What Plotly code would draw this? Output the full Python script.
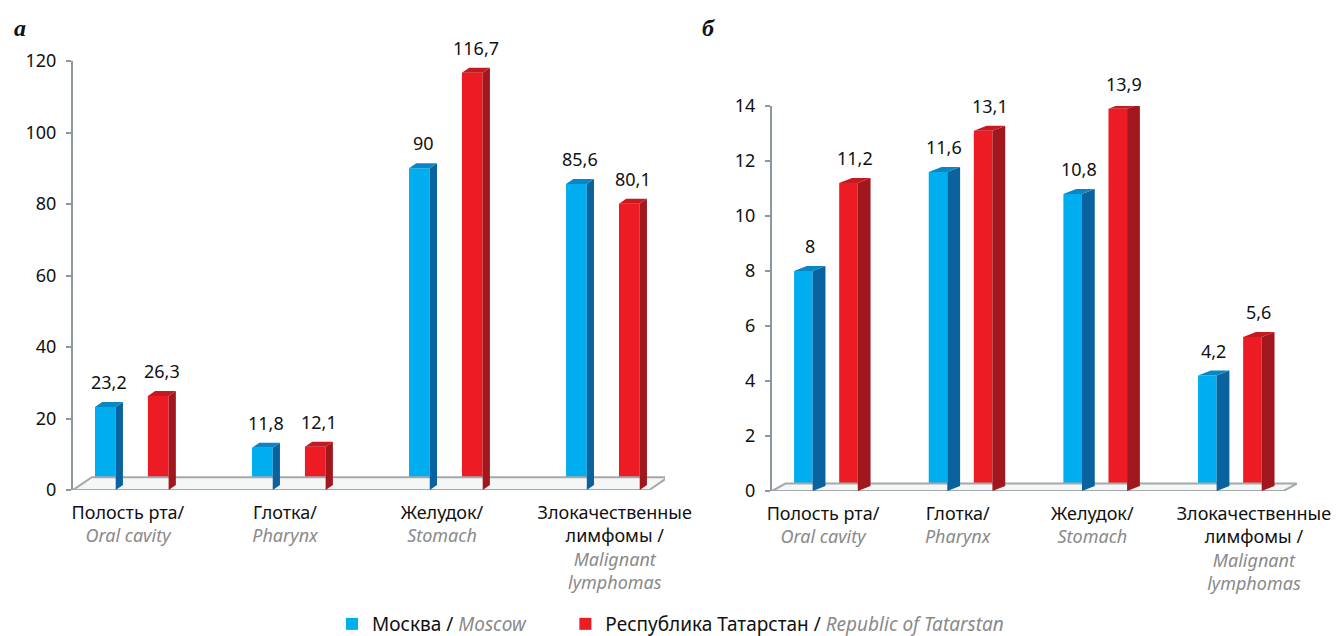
import plotly.graph_objects as go

# ---------------- data ----------------
categories_ru = ["Полость рта/", "Глотка/", "Желудок/", "Злокачественные<br>лимфомы /"]
categories_en = ["Oral cavity", "Pharynx", "Stomach", "Malignant<br>lymphomas"]
series_names_ru = ["Москва", "Республика Татарстан"]
series_names_en = ["Moscow", "Republic of Tatarstan"]
moscow_a = [23.2, 11.8, 90, 85.6]
tatarstan_a = [26.3, 12.1, 116.7, 80.1]
moscow_b = [8, 11.6, 10.8, 4.2]
tatarstan_b = [11.2, 13.1, 13.9, 5.6]
yticks_a = [0, 20, 40, 60, 80, 100, 120]
yticks_b = [0, 2, 4, 6, 8, 10, 12, 14]
panel_letters = ["а", "б"]

# ---------------- style ----------------
FONT = "Noto Sans"
GREY_TXT = "#8a8a8a"
AXIS_COL = "#8e979b"
colors = [
    dict(front="#00aeef", side="#0a629e", top="#0a86c4"),
    dict(front="#ed1c24", side="#a0171d", top="#c41a20"),
]
W, H = 1341, 636


def em_grey(t):
    parts = t.split("<br>")
    return "<br>".join(f"<i><span style='color:{GREY_TXT}'>{p}</span></i>" for p in parts)


ticktext = [f"{ru}<br>{em_grey(en)}" for ru, en in zip(categories_ru, categories_en)]


def fmt(v):
    return f"{v:g}".replace(".", ",")


fig = go.Figure()

panels = [
    dict(xa="x", ya="y", vals=[moscow_a, tatarstan_a], offs=[-0.21, 0.127], w=0.132,
         depth=0.046, rise=1.4, rise_px=5, xr=[-0.35, 3.42], px=(73, 665), yr=[0, 120],
         ypx=(490, 61), yt=yticks_a, floor_depth=0.12, floor_rise=3.6, floor_front_end=3.32,
         label_shift=[0, 0, 0, 0.1]),
    dict(xa="x2", ya="y2", vals=[moscow_b, tatarstan_b], offs=[-0.215, 0.12], w=0.138,
         depth=0.095, rise=0.18, rise_px=5, xr=[-0.379, 3.52], px=(772, 1297), yr=[0, 14],
         ypx=(491, 106), yt=yticks_b, floor_depth=0.1, floor_rise=0.27, floor_front_end=3.42,
         label_shift=[0, 0, 0, 0.2]),
]

annotations = []
for p_i, p in enumerate(panels):
    # floor
    x0, x1 = p["xr"][0], p["floor_front_end"]
    fd, fr = p["floor_depth"], p["floor_rise"]
    fig.add_trace(go.Scatter(
        x=[x0, x1, x1 + fd, x0 + fd, x0], y=[0, 0, fr, fr, 0],
        mode="lines", fill="toself", fillcolor="#f5f6f6",
        line=dict(color="#a3a9ab", width=2), xaxis=p["xa"], yaxis=p["ya"],
        showlegend=False, hoverinfo="skip", cliponaxis=False))
    for s, vals in enumerate(p["vals"]):
        off, w, d, r = p["offs"][s], p["w"], p["depth"], p["rise"]
        c = colors[s]
        cats = list(range(len(vals)))
        pad = "&nbsp;" * 7 if s == 0 else ""
        fig.add_trace(go.Bar(
            x=cats, y=vals, width=w, offset=off, marker=dict(color=c["front"], line=dict(width=0)),
            xaxis=p["xa"], yaxis=p["ya"],
            name=f"{series_names_ru[s]} / <i><span style='color:{GREY_TXT}'>{series_names_en[s]}</span></i>{pad}",
            legendgroup=str(s), showlegend=(p_i == 0), hoverinfo="skip"))
        sx, sy, tx, ty = [], [], [], []
        for i, v in zip(cats, vals):
            a = i + off
            b = a + w
            sx += [b, b + d, b + d, b, b, None]
            sy += [0, r, v + r, v, 0, None]
            tx += [a, b, b + d, a + d, a, None]
            ty += [v, v, v + r, v + r, v, None]
            annotations.append(dict(
                x=a + (w + d) / 2, y=v, xref=p["xa"], yref=p["ya"], text=fmt(v),
                showarrow=False, xanchor="center", yanchor="bottom", yshift=p["rise_px"] + 6,
                font=dict(family=FONT, size=18, color="#111")))
        fig.add_trace(go.Scatter(x=sx, y=sy, mode="lines", fill="toself", fillcolor=c["side"],
                                 line=dict(width=0, color=c["side"]), xaxis=p["xa"], yaxis=p["ya"],
                                 showlegend=False, hoverinfo="skip", cliponaxis=False))
        fig.add_trace(go.Scatter(x=tx, y=ty, mode="lines", fill="toself", fillcolor=c["top"],
                                 line=dict(width=0, color=c["top"]), xaxis=p["xa"], yaxis=p["ya"],
                                 showlegend=False, hoverinfo="skip", cliponaxis=False))

axis_common_y = dict(showline=True, linecolor=AXIS_COL, linewidth=2, ticks="outside", ticklen=5,
                     tickwidth=2, tickcolor=AXIS_COL, showgrid=False, zeroline=False,
                     ticklabelstandoff=6,
                     tickfont=dict(family=FONT, size=18, color="#111"))
axis_common_x = dict(showline=False, showgrid=False, zeroline=False, ticks="",
                     ticktext=ticktext, ticklabelstandoff=10,
                     tickfont=dict(family=FONT, size=18, color="#111"))

layout = dict(
    width=W, height=H, margin=dict(l=0, r=0, t=0, b=0, autoexpand=False),
    paper_bgcolor="white", plot_bgcolor="rgba(0,0,0,0)", barmode="overlay",
    template="none",
    font=dict(family=FONT, size=16, color="#111"),
    legend=dict(orientation="h", x=0.5, xanchor="center", y=-7 / H, yanchor="bottom",
                font=dict(family=FONT, size=19, color="#111"), traceorder="normal",
                itemwidth=30, bgcolor="rgba(0,0,0,0)"),
)
for p_i, p in enumerate(panels):
    xk = "xaxis" if p_i == 0 else "xaxis2"
    yk = "yaxis" if p_i == 0 else "yaxis2"
    tickvals = [i + sh for i, sh in enumerate(p["label_shift"])]
    layout[xk] = dict(axis_common_x, range=p["xr"], tickvals=tickvals,
                      domain=[p["px"][0] / W, p["px"][1] / W], anchor=p["ya"])
    layout[yk] = dict(axis_common_y, range=p["yr"], tickvals=p["yt"],
                      domain=[1 - p["ypx"][0] / H, 1 - p["ypx"][1] / H], anchor=p["xa"])
fig.update_layout(**layout)

for letter, xp in zip(panel_letters, [12, 700]):
    annotations.append(dict(x=xp / W, y=1 - 28 / H, xref="paper", yref="paper", xanchor="left",
                            yanchor="middle", showarrow=False, text=f"<b><i>{letter}</i></b>",
                            font=dict(family="Liberation Serif", size=24, color="#111")))
fig.update_layout(annotations=annotations)

fig.write_html("out.html", config={"displayModeBar": False},
               post_script="document.body.style.margin='0';")
